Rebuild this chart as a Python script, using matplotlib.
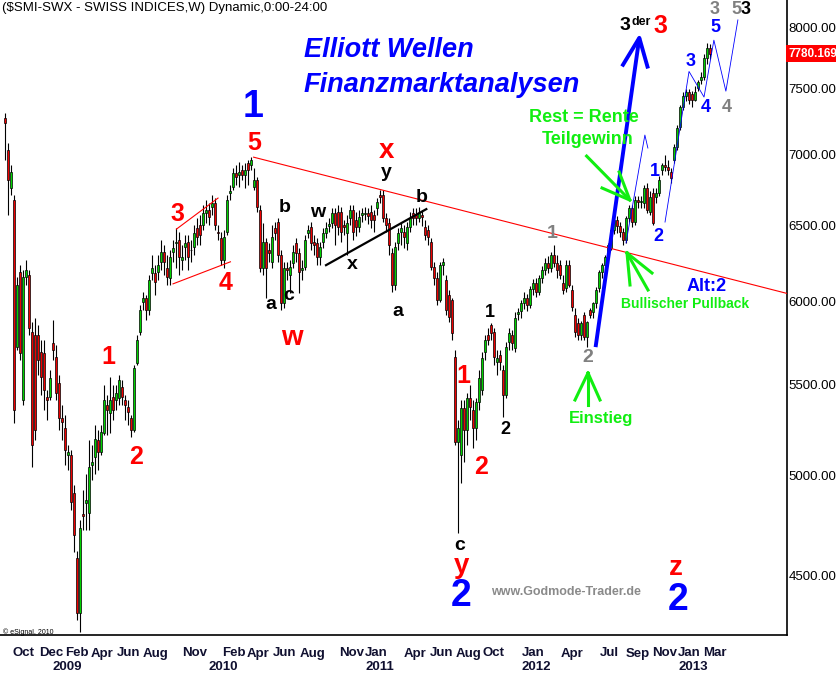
import numpy as np
import pandas as pd
import matplotlib
matplotlib.use('Agg')
import matplotlib.pyplot as plt
import matplotlib.dates as mdates
from matplotlib.ticker import FixedLocator, FixedFormatter, NullLocator

plt.rcParams['font.family'] = ['Liberation Sans', 'DejaVu Sans']

# weekly SMI candles, first week ending 2008-09-12
first_week = '2008-09-12'
opens = [7275, 7032, 6760, 6675, 5720, 6190, 5410, 6155, 6170, 5810,
         5790, 5790, 5690, 5685, 5430, 5430, 5745, 5660, 5510, 5310,
         5255, 5108, 5108, 4910, 4585, 4330, 4800, 4860, 4807, 5055,
         5097, 5190, 5125, 5228, 5385, 5340, 5430, 5410, 5420, 5485,
         5410, 5370, 5310, 5245, 5625, 5810, 5995, 6020, 5945, 6180,
         6180, 6190, 6255, 6320, 6215, 6150, 6320, 6380, 6400, 6265,
         6350, 6385, 6330, 6350, 6480, 6500, 6500, 6585, 6605, 6625,
         6650, 6455, 6415, 6265, 6455, 6725, 6765, 6865, 6850, 6885,
         6850, 6940, 6925, 6765, 6815, 6605, 6215, 6385, 6332, 6255,
         6480, 6521, 6300, 5990, 6215, 6170, 6245, 6380, 6312, 6200,
         6220, 6446, 6487, 6386, 6380, 6285, 6386, 6446, 6494, 6514,
         6583, 6590, 6590, 6500, 6446, 6548, 6605, 6535, 6487, 6570,
         6576, 6583, 6590, 6570, 6615, 6710, 6710, 6548, 6514, 6312,
         6105, 6380, 6453, 6453, 6380, 6487, 6583, 6569, 6548, 6569,
         6487, 6467, 6386, 6220, 6150, 6009, 6233, 6137, 6041, 6009,
         5661, 5178, 5108, 5366, 5244, 5422, 5355, 5255, 5400, 5469,
         5690, 5792, 5853, 5810, 5631, 5672, 5585, 5440, 5750, 5792,
         5714, 5922, 5940, 5990, 6020, 5980, 6080, 6120, 6060, 6150,
         6200, 6250, 6215, 6300, 6250, 6233, 6118, 6085, 6233, 6073,
         5916, 5866, 5792, 5916, 5780, 5947, 5934, 5990, 6085, 6188,
         6233, 6286, 6346, 6467, 6535, 6494, 6453, 6399, 6548, 6617,
         6521, 6673, 6659, 6652, 6758, 6590, 6723, 6694, 6723, 6887,
         6923, 6909, 6872, 6960, 7054, 7204, 7356, 7440, 7470, 7455,
         7412, 7508, 7568, 7592, 7746, 7826]
highs = [7312, 7084, 6925, 6710, 6155, 6235, 6200, 6265, 6200, 5870,
         5897, 5855, 5760, 5760, 5470, 5585, 5885, 5730, 5555, 5385,
         5325, 5162, 5135, 4950, 4620, 4770, 4925, 5010, 5190, 5162,
         5272, 5245, 5272, 5495, 5440, 5545, 5495, 5495, 5555, 5525,
         5440, 5410, 5325, 5615, 5790, 5980, 6060, 6040, 6170, 6300,
         6235, 6300, 6400, 6365, 6300, 6330, 6400, 6480, 6455, 6365,
         6433, 6433, 6400, 6500, 6550, 6570, 6640, 6675, 6650, 6710,
         6685, 6500, 6455, 6467, 6710, 6780, 6900, 6925, 6945, 6925,
         6940, 6960, 6980, 6900, 6835, 6640, 6514, 6413, 6380, 6500,
         6521, 6548, 6332, 6255, 6255, 6265, 6366, 6413, 6346, 6265,
         6433, 6501, 6521, 6433, 6413, 6386, 6480, 6521, 6548, 6617,
         6615, 6640, 6625, 6535, 6570, 6640, 6640, 6590, 6605, 6615,
         6625, 6615, 6640, 6605, 6685, 6745, 6745, 6583, 6548, 6346,
         6386, 6480, 6521, 6501, 6521, 6590, 6615, 6615, 6625, 6603,
         6535, 6501, 6413, 6253, 6188, 6253, 6279, 6169, 6073, 6022,
         5702, 5300, 5411, 5411, 5452, 5497, 5411, 5422, 5585, 5690,
         5792, 5835, 5866, 5835, 5702, 5702, 5614, 5750, 5835, 5822,
         5934, 5959, 6010, 6060, 6050, 6100, 6140, 6150, 6170, 6230,
         6280, 6290, 6320, 6366, 6300, 6265, 6170, 6265, 6265, 6105,
         5960, 5900, 5880, 5935, 5880, 5960, 6000, 6090, 6200, 6250,
         6300, 6380, 6480, 6560, 6560, 6520, 6480, 6560, 6640, 6640,
         6700, 6700, 6700, 6780, 6790, 6740, 6760, 6760, 6840, 6940,
         6995, 6960, 6900, 7080, 7220, 7370, 7470, 7500, 7500, 7480,
         7520, 7570, 7630, 7780, 7866, 7860]
lows = [6960, 6570, 6710, 5285, 5700, 5645, 5385, 6105, 5790, 5045,
        5190, 5555, 5440, 5355, 5300, 5410, 5645, 5410, 5245, 5190,
        5055, 5030, 4820, 4615, 4295, 4245, 4720, 4720, 4720, 4975,
        5010, 5030, 5108, 5217, 5217, 5228, 5300, 5355, 5385, 5385,
        5300, 5272, 5205, 5235, 5615, 5790, 5945, 5885, 5915, 6135,
        6040, 6135, 6200, 6170, 6105, 6105, 6255, 6215, 6170, 6200,
        6265, 6200, 6255, 6300, 6365, 6365, 6467, 6515, 6500, 6570,
        6467, 6400, 6235, 6215, 6433, 6675, 6745, 6780, 6765, 6815,
        6760, 6780, 6885, 6745, 6590, 6190, 6170, 6022, 6255, 6215,
        6400, 6255, 5947, 5960, 6135, 6055, 6215, 6255, 6055, 6137,
        6200, 6413, 6332, 6299, 6233, 6233, 6345, 6413, 6453, 6480,
        6366, 6433, 6386, 6433, 6300, 6500, 6400, 6426, 6453, 6521,
        6535, 6507, 6480, 6453, 6570, 6650, 6521, 6453, 6299, 6060,
        6073, 6332, 6366, 6346, 6332, 6453, 6501, 6501, 6521, 6494,
        6399, 6366, 6201, 6105, 5978, 5996, 6169, 5916, 5872, 5762,
        5162, 4707, 4961, 5071, 5162, 5300, 5146, 5189, 5355, 5440,
        5643, 5732, 5762, 5614, 5555, 5585, 5316, 5422, 5702, 5702,
        5690, 5884, 5900, 5950, 5940, 5960, 6040, 6030, 6040, 6120,
        6170, 6180, 6190, 6220, 6150, 6140, 6050, 6060, 6090, 5940,
        5780, 5760, 5760, 5760, 5720, 5900, 5900, 5960, 6060, 6150,
        6200, 6250, 6330, 6440, 6450, 6420, 6366, 6380, 6520, 6490,
        6500, 6620, 6620, 6620, 6580, 6570, 6500, 6650, 6700, 6850,
        6880, 6850, 6790, 6940, 7030, 7180, 7330, 7400, 7380, 7360,
        7400, 7480, 7540, 7570, 7700, 7740]
closes = [7238, 6815, 6870, 5355, 6105, 5685, 6155, 6200, 5835, 5162,
          5245, 5645, 5545, 5470, 5410, 5537, 5700, 5450, 5310, 5290,
          5135, 5125, 4865, 4697, 4330, 4730, 4790, 4875, 5045, 5070,
          5195, 5125, 5235, 5410, 5355, 5410, 5355, 5450, 5525, 5430,
          5385, 5345, 5245, 5595, 5760, 5945, 6020, 5945, 6135, 6215,
          6125, 6235, 6320, 6255, 6155, 6285, 6345, 6385, 6285, 6285,
          6380, 6285, 6335, 6445, 6420, 6433, 6585, 6605, 6555, 6650,
          6500, 6445, 6265, 6420, 6675, 6737, 6865, 6835, 6870, 6850,
          6885, 6885, 6960, 6815, 6625, 6215, 6385, 6215, 6312, 6420,
          6445, 6300, 5990, 6215, 6200, 6220, 6320, 6312, 6190, 6215,
          6400, 6467, 6380, 6366, 6285, 6352, 6446, 6480, 6507, 6583,
          6500, 6487, 6453, 6487, 6514, 6605, 6453, 6487, 6555, 6583,
          6583, 6562, 6535, 6535, 6660, 6695, 6548, 6501, 6366, 6105,
          6352, 6446, 6480, 6419, 6487, 6548, 6548, 6548, 6583, 6555,
          6433, 6419, 6220, 6150, 6009, 6233, 6253, 5947, 5903, 5804,
          5178, 5255, 5366, 5244, 5422, 5372, 5255, 5400, 5537, 5655,
          5762, 5762, 5804, 5661, 5655, 5631, 5440, 5720, 5804, 5743,
          5897, 5934, 5990, 6020, 5980, 6080, 6120, 6060, 6150, 6200,
          6250, 6215, 6300, 6250, 6200, 6169, 6073, 6233, 6105, 5965,
          5810, 5792, 5866, 5780, 5872, 5916, 5990, 6073, 6188, 6233,
          6286, 6366, 6467, 6535, 6494, 6453, 6399, 6548, 6617, 6521,
          6673, 6659, 6666, 6758, 6603, 6694, 6514, 6723, 6815, 6923,
          6909, 6887, 6829, 7054, 7197, 7356, 7440, 7470, 7412, 7412,
          7477, 7554, 7592, 7746, 7826, 7780.169]

price_ticks = [4500, 5000, 5500, 6000, 6500, 7000, 7500, 8000]
month_starts = ['2008-10-01', '2008-12-01', '2009-02-01', '2009-04-01', '2009-06-01',
                '2009-08-01', '2009-11-01', '2010-02-01', '2010-04-01', '2010-06-01',
                '2010-08-01', '2010-11-01', '2011-01-01', '2011-04-01', '2011-06-01',
                '2011-08-01', '2011-10-01', '2012-01-01', '2012-04-01', '2012-07-01',
                '2012-09-01', '2012-11-01', '2013-01-01', '2013-03-01']
month_labels = ['Oct', 'Dec', 'Feb', 'Apr', 'Jun', 'Aug', 'Nov', 'Feb', 'Apr', 'Jun',
                'Aug', 'Nov', 'Jan', 'Apr', 'Jun', 'Aug', 'Oct', 'Jan', 'Apr', 'Jul',
                'Sep', 'Nov', 'Jan', 'Mar']
years = ['2009', '2010', '2011', '2012', '2013']

# drawn analysis lines (date, price)
resistance = (['2010-04-16', '2013-09-13'], [6980, 6050])
wedge_top = (['2009-10-18', '2010-01-23'], [6473, 6687])
wedge_bottom = (['2009-10-10', '2010-02-21'], [6112, 6255])
xb_line = (['2010-10-02', '2011-05-24'], [6233, 6610])
thrust = (['2012-06-22', '2012-10-02'], [5720, 7910])
thrust_head = (['2012-08-25', '2012-10-02', '2012-10-21'], [7690, 7910, 7675])
small_path = (['2012-09-01', '2012-10-15', '2012-10-22'], [6380, 7144, 7047])
wave_path = (['2012-12-01', '2013-01-26', '2013-03-02', '2013-03-25', '2013-04-22', '2013-05-20'],
             [6521, 7636, 7434, 7891, 7480, 8060])
arrow_rest = (['2012-06-01', '2012-09-10'], [6988, 6673])
arrow_rest_heads = (['2012-07-07', '2012-09-10', '2012-08-16'], [6758, 6673, 6872])

d = mdates.date2num(pd.date_range(first_week, periods=len(closes), freq='7D'))
o = np.array(opens, float)
c = np.array(closes, float)
h = np.array(highs, float)
l = np.array(lows, float)

W, H = 837, 674
AX_W, AX_H = 787, 635
fig = plt.figure(figsize=(W / 100, H / 100), dpi=100)
ax = fig.add_axes([0, 1 - AX_H / H, AX_W / W, AX_H / H])

ax.set_yscale('log')
ax.set_ylim(4230, 8230)
d0 = d[0]
ax.set_xlim(d0 - 10.7, d0 + 1825.6)

# candles
ax.vlines(d, l, h, color='black', lw=0.8, zorder=2)
up = c >= o
ax.bar(d[up], (c - o)[up], bottom=o[up], width=4.6, color='#00d200',
       edgecolor='black', linewidth=0.5, zorder=3)
ax.bar(d[~up], (o - c)[~up], bottom=c[~up], width=4.6, color='#ee0000',
       edgecolor='black', linewidth=0.5, zorder=3)


def line(pts, **kw):
    ax.plot(mdates.datestr2num(pts[0]), pts[1], **kw)


line(resistance, color='red', lw=0.8, zorder=4)
line(wedge_top, color='red', lw=0.8, zorder=4)
line(wedge_bottom, color='red', lw=0.8, zorder=4)
line(xb_line, color='black', lw=1.6, zorder=4)
line(thrust, color='#0000ff', lw=2.8, zorder=5, solid_capstyle='butt')
line(thrust_head, color='#0000ff', lw=2.8, zorder=5)
line(small_path, color='#0000ff', lw=0.6, zorder=5)
line(wave_path, color='#0000ff', lw=0.6, zorder=5)
line(arrow_rest, color='#11ee11', lw=2.2, zorder=5)
line(arrow_rest_heads, color='#11ee11', lw=2.2, zorder=5)


def seg(x0, y0, x1, y1, **kw):
    ax.plot([x0 / AX_W, x1 / AX_W], [1 - y0 / AX_H, 1 - y1 / AX_H],
            transform=ax.transAxes, clip_on=False, **kw)


# Einstieg / Pullback arrows
g = dict(color='#11ee11', lw=2.2, zorder=5)
seg(588, 373, 588, 405, **g)
seg(575, 400, 588, 373, **g)
seg(600, 400, 588, 373, **g)
seg(627, 253, 630, 285, **g)
seg(627, 253, 648, 290, **g)
seg(627, 253, 652, 273, **g)


def put(x, y, s, size, color, weight='bold', ha='center', style='normal', **kw):
    ax.text(x / AX_W, 1 - y / AX_H, s, transform=ax.transAxes, ha=ha, va='center',
            fontsize=size, color=color, fontweight=weight, fontstyle=style,
            clip_on=False, zorder=6, **kw)


BL, RD, GR, GN = '#0000ff', '#ff0000', '#808080', '#11ee11'
put(2, 8, '($SMI-SWX - SWISS INDICES,W) Dynamic,0:00-24:00', 9.5, 'black',
    weight='normal', ha='left')
put(304, 50, 'Elliott Wellen', 19.5, BL, ha='left', style='italic')
put(304, 85, 'Finanzmarktanalysen', 19.5, BL, ha='left', style='italic')
put(3, 632, '\u00a9 eSignal, 2010', 5, 'black', weight='normal', ha='left')

put(253, 107, '1', 27, BL)
put(254, 143, '5', 18, RD)
put(177, 214, '3', 18, RD)
put(226, 283, '4', 18, RD)
put(108, 357, '1', 18, RD)
put(136, 457, '2', 18, RD)
put(285, 208, 'b', 14, 'black')
put(271, 305, 'a', 14, 'black')
put(289, 296, 'c', 14, 'black')
put(292, 338, 'w', 20, RD)
put(318, 213, 'w', 14, 'black')
put(352, 265, 'x', 14, 'black')
put(387, 151, 'x', 20, RD)
put(386, 173, 'y', 14, 'black')
put(422, 198, 'b', 14, 'black')
put(398, 311, 'a', 14, 'black')
put(490, 313, '1', 13, 'black')
put(505, 430, '2', 13, 'black')
put(463, 376, '1', 18, RD)
put(481, 467, '2', 18, RD)
put(460, 545, 'c', 14, 'black')
put(462, 566, 'y', 20, RD)
put(461, 596, '2', 27, BL)
put(552, 234, '1', 14, GR)
put(588, 358, '2', 14, GR)
put(601, 419, 'Einstieg', 12, GN)
put(566, 592, 'www.Godmode-Trader.de', 9, '#8a8a8a')
put(676, 568, 'z', 20, RD)
put(678, 600, '2', 27, BL)
put(707, 287, 'Alt:2', 13, BL)
put(685, 304, 'Bullischer Pullback', 10, GN)
put(584, 117, 'Rest = Rente', 13, GN)
put(588, 140, 'Teilgewinn', 13, GN)
put(655, 172, '1', 13, BL)
put(658, 237, '2', 13, BL)
put(691, 62, '3', 13, BL)
put(706, 108, '4', 13, BL)
put(715, 28, '5', 13, BL)
put(727, 107, '4', 13, GR)
put(715, 9, '3', 13, GR)
put(736, 10, '5', 13, GR)
put(746, 10, '3', 13, 'black')
put(625, 26, '3', 14, 'black')
put(641, 22, 'der', 9, 'black')
put(660, 26, '3', 18, RD)

# axes styling
for s in ['left', 'top']:
    ax.spines[s].set_visible(False)
ax.spines['right'].set_linewidth(1.2)
ax.spines['bottom'].set_linewidth(1.2)
ax.yaxis.tick_right()
ax.yaxis.set_major_locator(FixedLocator(price_ticks))
ax.yaxis.set_major_formatter(FixedFormatter(['%.2f' % p for p in price_ticks]))
ax.yaxis.set_minor_locator(NullLocator())
ax.tick_params(axis='y', length=0, pad=1, labelsize=9.5)

mpos = mdates.datestr2num(month_starts)
ax.xaxis.set_major_locator(FixedLocator(mpos))
ax.xaxis.set_major_formatter(FixedFormatter(month_labels))
ax.xaxis.set_minor_locator(NullLocator())
ax.tick_params(axis='x', length=0, pad=9, labelsize=9.5)
for t in ax.get_xticklabels():
    t.set_ha('left')
    t.set_fontweight('bold')
    t.set_color('#101030')
for yr in years:
    ax.text(mdates.datestr2num(yr + '-01-01'), -0.05, yr, transform=ax.get_xaxis_transform(),
            ha='left', va='center', fontsize=9.5, fontweight='bold', color='#101030')

# last price tag
ax.text(1.002, c[-1], '%.3f' % c[-1], transform=ax.get_yaxis_transform(), ha='left',
        va='center', fontsize=8.5, fontweight='bold', color='white', clip_on=False,
        bbox=dict(boxstyle='square,pad=0.2', fc='#ff0000', ec='none'), zorder=7)

fig.savefig('out.png', dpi=100)
